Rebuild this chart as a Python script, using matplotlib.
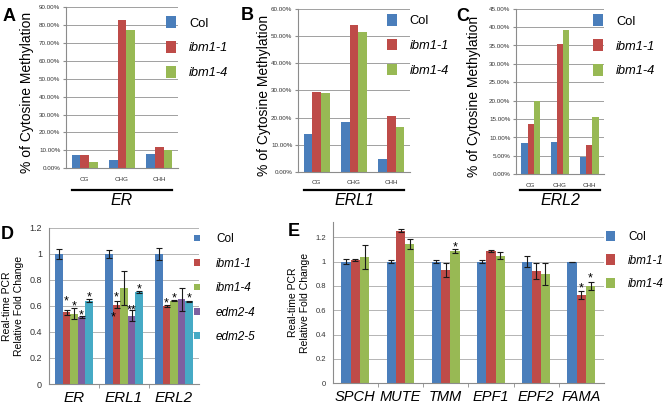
import matplotlib
matplotlib.use('Agg')
from matplotlib import pyplot as plt
from matplotlib.patches import Patch
import numpy as np

plt.rcParams['font.family'] = ['Liberation Sans', 'DejaVu Sans']

# ---- data ----
contexts = ['CG', 'CHG', 'CHH']
meth_lines = ['Col', 'ibm1-1', 'ibm1-4']

# % cytosine methylation (A: ER, B: ERL1, C: ERL2)
er_col = [7.6, 4.7, 7.8]
er_ibm11 = [7.6, 83.0, 11.7]
er_ibm14 = [3.5, 77.3, 10.1]

erl1_col = [14.0, 18.3, 4.7]
erl1_ibm11 = [29.6, 54.1, 20.6]
erl1_ibm14 = [29.1, 51.7, 16.5]

erl2_col = [8.5, 8.9, 4.8]
erl2_ibm11 = [13.7, 35.5, 8.0]
erl2_ibm14 = [20.0, 39.3, 15.5]

# D: qPCR of ER family
d_genes = ['ER', 'ERL1', 'ERL2']
d_lines = ['Col', 'ibm1-1', 'ibm1-4', 'edm2-4', 'edm2-5']
d_vals = {
    'Col':    [1.00, 1.00, 1.00],
    'ibm1-1': [0.55, 0.61, 0.60],
    'ibm1-4': [0.54, 0.74, 0.64],
    'edm2-4': [0.515, 0.525, 0.65],
    'edm2-5': [0.64, 0.705, 0.635],
}
d_err = {
    'Col':    [0.04, 0.03, 0.045],
    'ibm1-1': [0.02, 0.03, 0.01],
    'ibm1-4': [0.04, 0.13, 0.005],
    'edm2-4': [0.005, 0.04, 0.09],
    'edm2-5': [0.01, 0.01, 0.005],
}
# (gene index, line index, mark, y)
d_stars = [(0, 1, '*', 0.66), (0, 2, '*', 0.625), (0, 3, '*', 0.555), (0, 4, '*', 0.695),
           (1, 0.6, '*', 0.54), (1, 1, '*', 0.69), (1, 3, '**', 0.595), (1, 4, '*', 0.755),
           (2, 1, '*', 0.645), (2, 2, '*', 0.68), (2, 4, '*', 0.68)]

# E: qPCR of stomatal genes
e_genes = ['SPCH', 'MUTE', 'TMM', 'EPF1', 'EPF2', 'FAMA']
e_lines = ['Col', 'ibm1-1', 'ibm1-4']
e_vals = {
    'Col':    [1.00, 1.00, 1.00, 1.00, 1.00, 1.00],
    'ibm1-1': [1.015, 1.255, 0.93, 1.088, 0.925, 0.725],
    'ibm1-4': [1.04, 1.145, 1.09, 1.05, 0.895, 0.80],
}
e_err = {
    'Col':    [0.02, 0.01, 0.01, 0.015, 0.045, 0.0],
    'ibm1-1': [0.01, 0.015, 0.06, 0.005, 0.065, 0.03],
    'ibm1-4': [0.10, 0.045, 0.015, 0.03, 0.09, 0.03],
}
e_stars = [(1, 1, '**', 1.335), (2, 2, '*', 1.145), (5, 1, '*', 0.81), (5, 2, '*', 0.89)]

colors = {'Col': '#4a7ebb', 'ibm1-1': '#be4b48', 'ibm1-4': '#98b954',
          'edm2-4': '#7d60a0', 'edm2-5': '#46aac5'}

W, H = 672, 412


def fig_rect(x0, y0, x1, y1):
    # pixel box (top-left origin) -> figure fraction rect
    return [x0 / W, 1 - y1 / H, (x1 - x0) / W, (y1 - y0) / H]


def add_legend(ax, labels, x, y, fs, hl, hh, pad, ls):
    handles = [Patch(facecolor=colors[l], edgecolor='none', label=l) for l in labels]
    leg = ax.legend(handles=handles, loc='upper left', bbox_to_anchor=(x / W, 1 - y / H),
                    bbox_transform=fig.transFigure, frameon=False, fontsize=fs,
                    handlelength=hl, handleheight=hh, handletextpad=pad, labelspacing=ls,
                    borderpad=0, borderaxespad=0)
    for t in leg.get_texts():
        if t.get_text() != 'Col':
            t.set_style('italic')
    return leg


def style_axes(ax, gridc):
    for s in ['top', 'right']:
        ax.spines[s].set_visible(False)
    for s in ['left', 'bottom']:
        ax.spines[s].set_color('#8c8c8c')
        ax.spines[s].set_linewidth(0.8)
    ax.yaxis.grid(True, color=gridc, linewidth=0.7)
    ax.set_axisbelow(True)


def meth_panel(rect, series, ymax, ystep, gene, letter, letter_xy, leg_xy, bw, ylab_x):
    ax = fig.add_axes(fig_rect(*rect))
    x = np.arange(len(contexts))
    for i, (name, vals) in enumerate(zip(meth_lines, series)):
        ax.bar(x + (i - 1) * bw, vals, bw, color=colors[name])
    ax.set_xlim(-0.5, 2.5)
    ax.set_ylim(0, ymax)
    ticks = np.arange(0, ymax + 1e-6, ystep)
    ax.set_yticks(ticks)
    ax.set_yticklabels([f'{t:.2f}%' for t in ticks], fontsize=4.5, color='#333333')
    ax.set_xticks(x)
    ax.set_xticklabels(contexts, fontsize=4.5, color='#333333')
    ax.tick_params(axis='y', length=2, color='#8c8c8c', pad=2)
    ax.tick_params(axis='x', length=0, pad=6)
    style_axes(ax, '#a0a0a0')
    x0, y0, x1, y1 = rect
    # label coords give the right-hand edge of the rotated label
    ax.set_ylabel('% of Cytosine Methylation', fontsize=10)
    ax.yaxis.set_label_coords((ylab_x - x0) / (x1 - x0), 0.47)
    # underline + gene name below the plot
    ax.plot([0.05, 0.95], [-(190 - y1) / (y1 - y0)] * 2, color='black', lw=1.6,
            transform=ax.transAxes, clip_on=False)
    ax.text(0.5, -(201 - y1) / (y1 - y0), gene, transform=ax.transAxes, fontsize=11.5,
            style='italic', ha='center', va='center')
    fig.text(letter_xy[0] / W, 1 - letter_xy[1] / H, letter, fontsize=13,
             fontweight='bold', va='top')
    add_legend(ax, meth_lines, leg_xy[0], leg_xy[1], 9.3, 0.78, 1.0, 1.0, 0.9)
    return ax


def qpcr_panel(rect, genes, lines, vals, errs, stars, bw, ymax, tick_fs, gene_fs):
    ax = fig.add_axes(fig_rect(*rect))
    x = np.arange(len(genes))
    n = len(lines)
    for i, name in enumerate(lines):
        ax.bar(x + (i - (n - 1) / 2) * bw, vals[name], bw, color=colors[name],
               yerr=errs[name], error_kw=dict(ecolor='#1a1a1a', elinewidth=0.8,
                                              capsize=2.2, capthick=0.8))
    for g, s, mark, yv in stars:
        ax.annotate(mark, (g + (s - (n - 1) / 2) * bw, yv), xytext=(0, -2.5),
                    textcoords='offset points', ha='center', va='center', fontsize=9)
    ax.set_xlim(-0.5, len(genes) - 0.5)
    ax.set_ylim(0, ymax)
    ax.set_yticks(np.arange(0, 1.21, 0.2))
    ax.set_yticklabels(['0', '0.2', '0.4', '0.6', '0.8', '1', '1.2'], fontsize=tick_fs,
                       color='#333333')
    ax.set_xticks(x)
    ax.set_xticklabels(genes, fontsize=gene_fs, style='italic')
    ax.set_xticks(np.arange(0.5, len(genes) - 0.5), minor=True)
    ax.tick_params(axis='x', which='major', length=0, pad=5)
    ax.tick_params(axis='x', which='minor', length=3, color='#8c8c8c')
    ax.tick_params(axis='y', length=0, pad=5)
    style_axes(ax, '#b4b4b4')
    ax.set_ylabel('Real-time PCR\nRelative Fold Change', fontsize=7.5, labelpad=4,
                  linespacing=1.25)
    return ax


fig = plt.figure(figsize=(W / 100, H / 100), dpi=100)

meth_panel((66, 7, 178, 168.3), [er_col, er_ibm11, er_ibm14], 90, 10, 'ER', 'A',
           (3, 8), (166, 16.3), 0.23, 34)
meth_panel((298, 9.3, 410, 171.7), [erl1_col, erl1_ibm11, erl1_ibm14], 60, 10, 'ERL1', 'B',
           (241, 7), (386.7, 14), 0.23, 271)
meth_panel((516, 8.7, 604, 174.3), [erl2_col, erl2_ibm11, erl2_ibm14], 45, 5, 'ERL2', 'C',
           (456, 8), (593, 14.5), 0.215, 481)

axd = qpcr_panel((49, 227.7, 199, 384), d_genes, d_lines, d_vals, d_err, d_stars,
                 0.15, 1.2, 6.5, 11)
add_legend(axd, d_lines, 194, 233.4, 8.5, 0.47, 0.48, 1.4, 1.05)
fig.text(1 / W, 1 - 226 / H, 'D', fontsize=13, fontweight='bold', va='top')

axe = qpcr_panel((332.7, 222, 604, 383.3), e_genes, e_lines, e_vals, e_err, e_stars,
                 0.205, 1.326, 5.5, 10.5)
add_legend(axe, e_lines, 606, 230.7, 8.5, 0.76, 1.0, 1.1, 0.95)
fig.text(288 / W, 1 - 223 / H, 'E', fontsize=13, fontweight='bold', va='top')

fig.savefig('out.png', dpi=100)
